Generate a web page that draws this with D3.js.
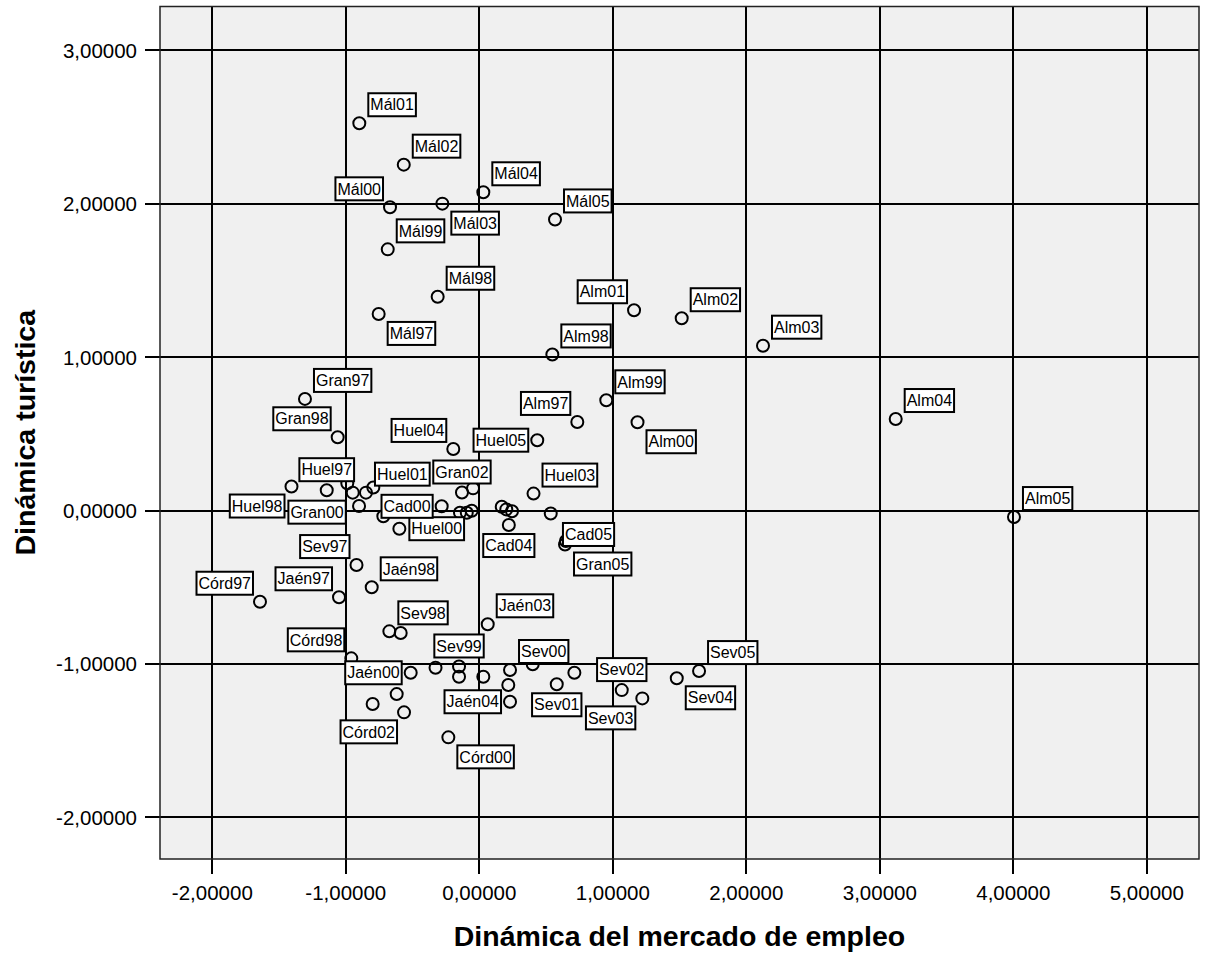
<!DOCTYPE html>
<html>
<head>
<meta charset="utf-8">
<script src="https://cdn.jsdelivr.net/npm/d3@7"></script>
<style>
  body { margin: 0; background: #fff; }
  text { font-family: "Liberation Sans", Arial, sans-serif; }
</style>
</head>
<body>
<svg id="chart"></svg>
<script>
// labels shown on the chart ("" = point without visible label)
const names = [
  "Mál01", "Mál02", "Mál04", "Mál00", "Mál03", "Mál99", "Mál98", "Mál97", "Mál05",
  "Alm01", "Alm02", "Alm03", "Alm98", "Alm99", "Alm97", "Alm00", "Alm04", "Alm05",
  "Huel05", "Huel04", "Gran02", "", "Huel03", "", "", "", "Cad04", "", "Gran05", "Cad05",
  "Gran97", "Gran98", "Huel98", "Huel97", "", "Gran00", "", "Huel01", "", "", "Huel00", "Cad00",
  "", "", "",
  "Sev97", "Jaén98", "Córd97", "Jaén97", "Sev98", "", "Córd98", "Jaén00", "", "Sev99", "", "",
  "Jaén03", "", "", "Córd02", "Córd00", "Sev00", "", "Jaén04", "", "Sev01", "", "Sev02", "Sev03",
  "Sev04", "Sev05"
];
// Dinámica del mercado de empleo
const empleo = [
  -0.899, -0.566, 0.030, -0.669, -0.277, -0.686, -0.312, -0.754, 0.567,
  1.159, 1.516, 2.125, 0.547, 0.951, 0.734, 1.185, 3.119, 4.005,
  0.434, -0.195, -0.130, -0.047, 0.406, 0.168, 0.202, 0.245, 0.221, 0.535, 0.642, 0.649,
  -1.306, -1.061, -1.407, -1.143, -0.989, -0.948, -0.901, -0.849, -0.794, -0.719, -0.599, -0.282,
  -0.145, -0.094, -0.057,
  -0.920, -0.806, -1.643, -1.051, -0.674, -0.589, -0.959, -0.514, -0.328, -0.152, -0.152, 0.030,
  0.063, -0.619, -0.799, -0.564, -0.232, 0.230, 0.217, 0.230, 0.400, 0.580, 0.712, 1.067, 1.221,
  1.479, 1.646
];
// Dinámica turística
const turismo = [
  2.525, 2.255, 2.075, 1.977, 2.001, 1.703, 1.394, 1.282, 1.898,
  1.306, 1.254, 1.075, 1.018, 0.719, 0.578, 0.576, 0.597, -0.042,
  0.459, 0.402, 0.118, 0.145, 0.111, 0.025, 0.008, -0.004, -0.094, -0.019, -0.221, -0.198,
  0.728, 0.478, 0.157, 0.133, 0.178, 0.117, 0.030, 0.117, 0.151, -0.037, -0.118, 0.028,
  -0.014, -0.014, -0.001,
  -0.355, -0.500, -0.594, -0.565, -0.787, -0.798, -0.963, -1.057, -1.024, -1.016, -1.083, -1.083,
  -0.741, -1.196, -1.261, -1.315, -1.478, -1.039, -1.137, -1.246, -1.002, -1.132, -1.057, -1.170, -1.224,
  -1.093, -1.046
];
// where each label sits relative to its point
const labelPos = [
  "NE", "NE", "NE", "NW", "SE", "NE", "NE", "SE", "NE",
  "NW", "NE", "NE", "NE", "NE", "NW", "SE", "NE", "NE",
  "W", "NW", "N", null, "NE", null, null, null, "S", null, "SE", "OV",
  "NE", "NW", "SW", "N", null, "SW", null, "NE", null, null, "E", "W",
  null, null, null,
  "NW", "NE", "NW", "NW", "NE", null, "NW", "W", null, "N", null, null,
  "NE", null, null, "SW", "SE", "NE", null, "W", null, "S", null, "N", "SW",
  "SE", "NE"
];
const ticks = [-2, -1, 0, 1, 2, 3, 4, 5];
const yTicks = [-2, -1, 0, 1, 2, 3];

const width = 1207, height = 953;
const plot = { left: 160, right: 1199, top: 6.5, bottom: 859 };

const svg = d3.select("#chart").attr("width", width).attr("height", height);

const x = d3.scaleLinear().domain([-2.392, 5.391]).range([plot.left, plot.right]);
const y = d3.scaleLinear().domain([-2.271, 3.286]).range([plot.bottom, plot.top]);

const fmt = d3.formatLocale({ decimal: ",", thousands: ".", grouping: [3], currency: ["", ""], minus: "-" }).format(".5f");

// plot background
svg.append("rect")
    .attr("x", plot.left).attr("y", plot.top)
    .attr("width", plot.right - plot.left).attr("height", plot.bottom - plot.top)
    .attr("fill", "#f0f0f0");

// grid lines (snapped to whole pixels so the 2px lines stay sharp)
svg.selectAll("line.vgrid").data(ticks).enter().append("line")
    .attr("x1", d => Math.round(x(d))).attr("x2", d => Math.round(x(d)))
    .attr("y1", plot.top).attr("y2", plot.bottom + 15)
    .attr("stroke", "#000").attr("stroke-width", 2);
svg.selectAll("line.hgrid").data(yTicks).enter().append("line")
    .attr("y1", d => Math.round(y(d))).attr("y2", d => Math.round(y(d)))
    .attr("x1", plot.left - 15).attr("x2", plot.right)
    .attr("stroke", "#000").attr("stroke-width", 2);

// frame
svg.append("rect")
    .attr("x", plot.left).attr("y", plot.top)
    .attr("width", plot.right - plot.left).attr("height", plot.bottom - plot.top)
    .attr("fill", "none").attr("stroke", "#222").attr("stroke-width", 1.5);

// tick labels
svg.selectAll("text.xt").data(ticks).enter().append("text")
    .attr("x", d => x(d)).attr("y", 900)
    .attr("text-anchor", "middle").attr("font-size", "20.5px")
    .text(d => fmt(d));
svg.selectAll("text.yt").data(yTicks).enter().append("text")
    .attr("x", 137).attr("y", d => y(d) + 7.4)
    .attr("text-anchor", "end").attr("font-size", "20.5px")
    .text(d => fmt(d));

// axis titles
svg.append("text")
    .attr("x", (plot.left + plot.right) / 2).attr("y", 946)
    .attr("text-anchor", "middle").attr("font-size", "28.5px").attr("font-weight", "bold")
    .text("Dinámica del mercado de empleo");
svg.append("text")
    .attr("transform", "translate(35," + (plot.top + plot.bottom) / 2 + ") rotate(-90)")
    .attr("text-anchor", "middle").attr("font-size", "28.5px").attr("font-weight", "bold")
    .text("Dinámica turística");

// points
const points = empleo.map((v, i) => ({ name: names[i], ex: v, tu: turismo[i], pos: labelPos[i] }));

svg.selectAll("circle.pt").data(points).enter().append("circle")
    .attr("cx", d => x(d.ex)).attr("cy", d => y(d.tu))
    .attr("r", 6)
    .attr("fill", "none").attr("stroke", "#000").attr("stroke-width", 2);

// label box placement (box left/top from point and box size)
function placeBox(pos, cx, cy, w, h) {
    switch (pos) {
        case "NE": return [cx + 9, cy - 7 - h];
        case "NW": return [cx - 7 - w, cy - 7 - h];
        case "SE": return [cx + 9, cy + 8];
        case "SW": return [cx - 7 - w, cy + 8];
        case "N":  return [cx - w / 2, cy - 9 - h];
        case "S":  return [cx - w / 2, cy + 9];
        case "E":  return [cx + 10, cy - h / 2];
        case "W":  return [cx - 9 - w, cy - h / 2];
        case "OV": return [cx - 3, cy + 5 - h];
    }
}

const boxH = 23;
points.filter(d => d.pos).forEach(d => {
    const g = svg.append("g");
    const rect = g.append("rect");
    const t = g.append("text").attr("font-size", "16px").attr("text-anchor", "middle").text(d.name);
    const w = t.node().getComputedTextLength() + 4;
    const [bx, by] = placeBox(d.pos, x(d.ex), y(d.tu), w, boxH);
    rect.attr("x", bx).attr("y", by).attr("width", w).attr("height", boxH)
        .attr("fill", "#fff").attr("stroke", "#000").attr("stroke-width", 2);
    t.attr("x", bx + w / 2).attr("y", by + boxH / 2 + 5.7);
});
</script>
</body>
</html>
